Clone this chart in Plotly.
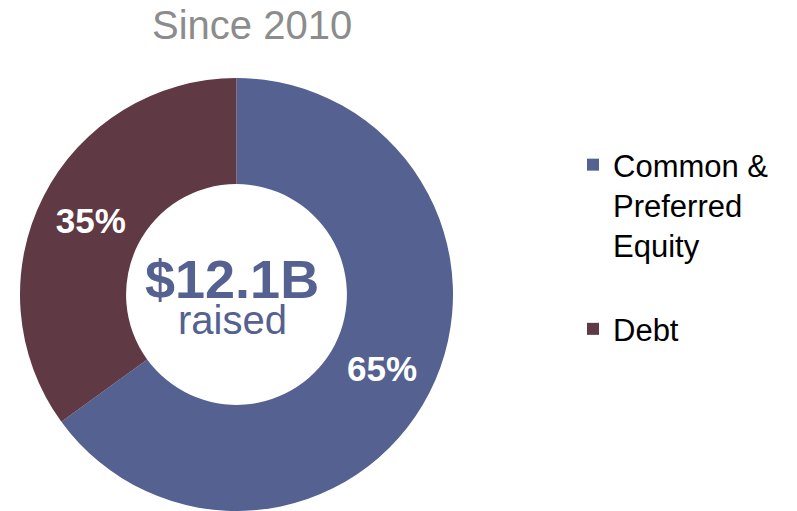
import plotly.graph_objects as go

# Capital raised since 2010, split by source
categories = ["Common &<br>Preferred<br>Equity<br> ", "Debt"]
shares = [65, 35]
colors = ["#546191", "#5f3943"]
total_label = "$12.1B"
title_text = "Since 2010"

W, H = 797, 511
FONT = "Liberation Sans, Arial, sans-serif"

fig = go.Figure(
    go.Pie(
        labels=categories,
        values=shares,
        hole=0.51,
        sort=False,
        direction="clockwise",
        rotation=0,
        marker=dict(colors=colors, line=dict(width=0)),
        texttemplate="%{percent:.0%}",
        textposition="inside",
        insidetextorientation="horizontal",
        textfont=dict(family=FONT, size=35, color="white", weight="bold"),
        domain=dict(x=[20 / W, 453 / W], y=[0, 1 - 78 / H]),
        hoverinfo="label+percent",
    )
)

fig.add_annotation(
    x=252 / W, y=1 - 25 / H, xref="paper", yref="paper",
    xanchor="center", yanchor="middle",
    text=title_text, showarrow=False,
    font=dict(family=FONT, size=40, color="#8c8c8c"),
)
fig.add_annotation(
    x=232 / W, y=1 - 279 / H, xref="paper", yref="paper",
    xanchor="center", yanchor="middle",
    text="<b>" + total_label + "</b>", showarrow=False,
    font=dict(family=FONT, size=54, color="#546191"),
)
fig.add_annotation(
    x=232 / W, y=1 - 320 / H, xref="paper", yref="paper",
    xanchor="center", yanchor="middle",
    text="raised", showarrow=False,
    font=dict(family=FONT, size=40, color="#546191"),
)

fig.update_layout(
    width=W, height=H,
    margin=dict(l=0, r=0, t=0, b=0),
    paper_bgcolor="white",
    plot_bgcolor="white",
    showlegend=True,
    legend=dict(
        x=573 / W, y=1 - 138 / H, xanchor="left", yanchor="top",
        valign="top",
        font=dict(family=FONT, size=31, color="black"),
        bgcolor="rgba(0,0,0,0)",
        itemclick=False,
    ),
)

fig.write_html("out.html")
